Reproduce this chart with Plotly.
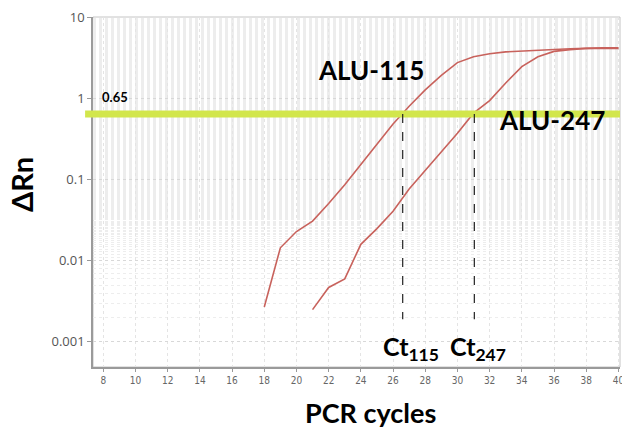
import plotly.graph_objects as go

# ---- data ----
cycles_115 = list(range(18, 41))
rn_115 = [0.0027, 0.0145, 0.023, 0.031, 0.051, 0.087, 0.155, 0.28, 0.49, 0.81,
          1.29, 1.95, 2.8, 3.3, 3.6, 3.8, 3.9, 4.0, 4.05, 4.15, 4.2, 4.2, 4.2]
cycles_247 = list(range(21, 41))
rn_247 = [0.0025, 0.0047, 0.006, 0.016, 0.025, 0.041, 0.077, 0.13, 0.22, 0.376,
          0.665, 0.95, 1.57, 2.5, 3.3, 3.85, 4.05, 4.2, 4.25, 4.25]
threshold = 0.65
ct_values = [26.6, 31.05]
ct_labels = ["Ct<sub>115</sub>", "Ct<sub>247</sub>"]
x_ticks = list(range(8, 41, 2))
y_ticks = [0.001, 0.01, 0.1, 1, 10]
y_tick_text = ["0.001", "0.01", "0.1", "1", "10"]

LINE = "#c8625c"
BOLD = "Lato, Open Sans, sans-serif"

fig = go.Figure()
fig.add_trace(go.Scatter(x=cycles_115, y=rn_115, mode="lines",
                         line=dict(color=LINE, width=1.6), name="ALU-115",
                         showlegend=False))
fig.add_trace(go.Scatter(x=cycles_247, y=rn_247, mode="lines",
                         line=dict(color=LINE, width=1.6), name="ALU-247",
                         showlegend=False))

# threshold band
fig.add_shape(type="line", xref="paper", yref="y", x0=-0.015, x1=1.0,
              y0=threshold, y1=threshold,
              line=dict(color="#d2e64c", width=7), layer="above")

# Ct dashed drop lines
for ct in ct_values:
    fig.add_shape(type="line", xref="x", yref="y", x0=ct, x1=ct,
                  y0=threshold, y1=0.0019,
                  line=dict(color="#222222", width=1.2, dash="dash"))

fig.add_annotation(x=24.6, y=0.35, xref="x", yref="y",
                   text="<b>ALU-115</b>", showarrow=False,
                   font=dict(family=BOLD, size=26, color="black"))
fig.add_annotation(x=35.9, y=-0.26, xref="x", yref="y",
                   text="<b>ALU-247</b>", showarrow=False,
                   font=dict(family=BOLD, size=26, color="black"))
fig.add_annotation(x=8.7, y=0.0, xref="x", yref="y", xanchor="center",
                   text="<b>0.65</b>", showarrow=False, yshift=2,
                   font=dict(family=BOLD, size=13, color="black"))
for ct, lab, dx in zip(ct_values, ct_labels, [0.5, 0.25]):
    fig.add_annotation(x=ct + dx, y=-3.07, xref="x", yref="y",
                       text="<b>" + lab + "</b>", showarrow=False,
                       font=dict(family=BOLD, size=25, color="black"))

# axis titles (placed as annotations to match the reference offsets)
fig.add_annotation(x=0.5275, y=-0.13, xref="paper", yref="paper",
                   xanchor="center", yanchor="middle",
                   text="<b>PCR cycles</b>", showarrow=False,
                   font=dict(family=BOLD, size=27, color="black"))
fig.add_annotation(x=-0.1366, y=0.52, xref="paper", yref="paper",
                   xanchor="center", yanchor="middle",
                   text="<b>ΔRn</b>", showarrow=False, textangle=-90,
                   font=dict(family=BOLD, size=29, color="black"))

fig.update_layout(
    width=622, height=429,
    margin=dict(l=93, r=2, t=17, b=62),
    paper_bgcolor="white", plot_bgcolor="white",
    xaxis=dict(range=[7.36, 40.1], tickvals=x_ticks, automargin=False,
               ticklabeloverflow="allow",
               tickfont=dict(family="Liberation Sans Narrow, DejaVu Sans Condensed, Roboto",
                             size=10, color="#666"),
               ticks="outside", ticklen=3, tickcolor="#999",
               showline=True, linecolor="#9a9a9a", linewidth=1.5, mirror=False,
               showgrid=True, gridcolor="#e4e4e4", griddash="dot", gridwidth=1,
               zeroline=False),
    yaxis=dict(type="log", range=[-3.31, 1.01], tickvals=y_ticks,
               ticktext=y_tick_text, automargin=False,
               tickfont=dict(family="Open Sans, sans-serif", size=13, color="#555"),
               ticks="outside", ticklen=4, tickcolor="#999",
               showline=True, linecolor="#9a9a9a", linewidth=1.5,
               showgrid=True, gridcolor="#d8d8d8", griddash="dot", gridwidth=1,
               minor=dict(showgrid=True, gridcolor="#ededed", griddash="dot"),
               zeroline=False),
)
# light frame on top / right
fig.add_shape(type="rect", xref="paper", yref="paper", x0=0, x1=1, y0=0, y1=1,
              line=dict(color="#c4c4c4", width=1), layer="below")

fig.write_html("out.html", config={"displayModeBar": False},
               post_script="document.body.style.margin='0';"
                           "document.body.style.overflow='hidden';")
